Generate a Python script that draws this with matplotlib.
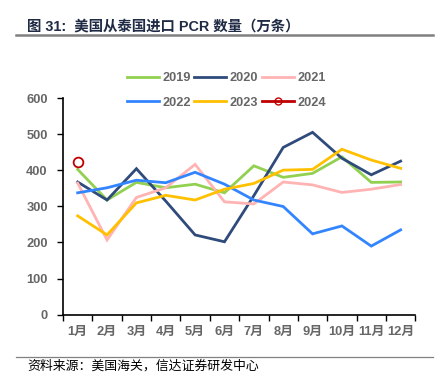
import numpy as np
import matplotlib
matplotlib.use("Agg")
import matplotlib.pyplot as plt
from matplotlib.lines import Line2D

plt.rcParams['font.family'] = ['Liberation Sans', 'Noto Sans CJK SC', 'DejaVu Sans']

# --- DATEN ---
MONATE = ["1月", "2月", "3月", "4月", "5月", "6月", "7月", "8月", "9月", "10月", "11月", "12月"]
Y2019 = [403, 318, 367, 352, 362, 338, 413, 381, 392, 438, 367, 368]
Y2020 = [368, 318, 405, 315, 221, 202, 330, 464, 506, 434, 388, 426]
Y2021 = [365, 207, 325, 352, 417, 313, 307, 368, 360, 339, 348, 361]
Y2022 = [338, 352, 373, 366, 395, 362, 318, 300, 224, 246, 190, 235]
Y2023 = [274, 221, 310, 331, 318, 348, 364, 401, 403, 459, 429, 406]
Y2024 = [423]
Y_TICKS = [0, 100, 200, 300, 400, 500, 600]

TITEL = "图 31:  美国从泰国进口 PCR 数量（万条）"
QUELLE = "资料来源：美国海关，信达证券研发中心"

# --- STYLE ---
FARBEN = {
    "2019": "#92D050",
    "2020": "#2F4B7C",
    "2021": "#FFB3B3",
    "2022": "#3385FF",
    "2023": "#FFC000",
    "2024": "#C00000",
}
GRAU = "#666666"
FS_TICK = 9.3

fig = plt.figure(figsize=(4.43, 3.85), dpi=100)
ax = fig.add_axes([0.1422, 0.1831, 0.7953, 0.5611])

x = np.arange(len(MONATE))
serien = [("2019", Y2019), ("2020", Y2020), ("2021", Y2021),
          ("2022", Y2022), ("2023", Y2023)]
for name, werte in serien:
    ax.plot(x, werte, color=FARBEN[name], lw=2.0, solid_joinstyle="miter")
ax.plot(x[:len(Y2024)], Y2024, color=FARBEN["2024"], lw=2.0, marker="o",
        markersize=7, markerfacecolor="none", markeredgewidth=1.3)

ax.set_xlim(-0.5, len(MONATE) - 0.5)
ax.set_ylim(0, 600)
ax.set_yticks(Y_TICKS)
ax.set_yticklabels([str(v) for v in Y_TICKS], fontsize=FS_TICK, color=GRAU, fontweight="bold")
ax.set_xticks(x)
ax.set_xticklabels(MONATE, fontsize=FS_TICK, color=GRAU, fontweight="bold")
ax.set_xticks(np.arange(-0.5, len(MONATE)), minor=True)
ax.tick_params(axis="x", which="major", length=0, pad=8)
ax.tick_params(axis="x", which="minor", length=4, width=1, color="black", direction="out")
ax.tick_params(axis="y", length=4, width=1, direction="out", pad=7)
for s in ["top", "right"]:
    ax.spines[s].set_visible(False)
for s in ["left", "bottom"]:
    ax.spines[s].set_linewidth(1.2)

# Legende (zeilenweise: matplotlib fuellt spaltenweise)
namen = ["2019", "2022", "2020", "2023", "2021", "2024"]
handles = []
for name in namen:
    if name == "2024":
        h = Line2D([], [], color=FARBEN[name], lw=2, marker="o", markersize=5,
                   markerfacecolor="none", markeredgewidth=1.0)
    else:
        h = Line2D([], [], color=FARBEN[name], lw=2)
    handles.append(h)
leg = fig.legend(handles, namen,
                 loc="center", bbox_to_anchor=(0.511, 0.765), ncol=3, frameon=False,
                 fontsize=9.2, handlelength=2.5, handletextpad=0.25, columnspacing=0.3,
                 labelspacing=0.95)
for t in leg.get_texts():
    t.set_color(GRAU)
    t.set_fontweight("bold")

# Titel und Quelle
fig.text(0.061, 0.93, TITEL, fontsize=10.4, fontweight="bold", color="#1F2A44",
         va="center", ha="left")
fig.add_artist(Line2D([0.036, 0.978], [0.909, 0.909], color="#808080", lw=1.8,
                      transform=fig.transFigure))
fig.add_artist(Line2D([0.036, 0.978], [0.073, 0.073], color="#808080", lw=0.9,
                      transform=fig.transFigure))
fig.text(0.061, 0.048, QUELLE, fontsize=9.3, color="black", va="center", ha="left",
         style="italic")

fig.savefig("out.png", dpi=100)
